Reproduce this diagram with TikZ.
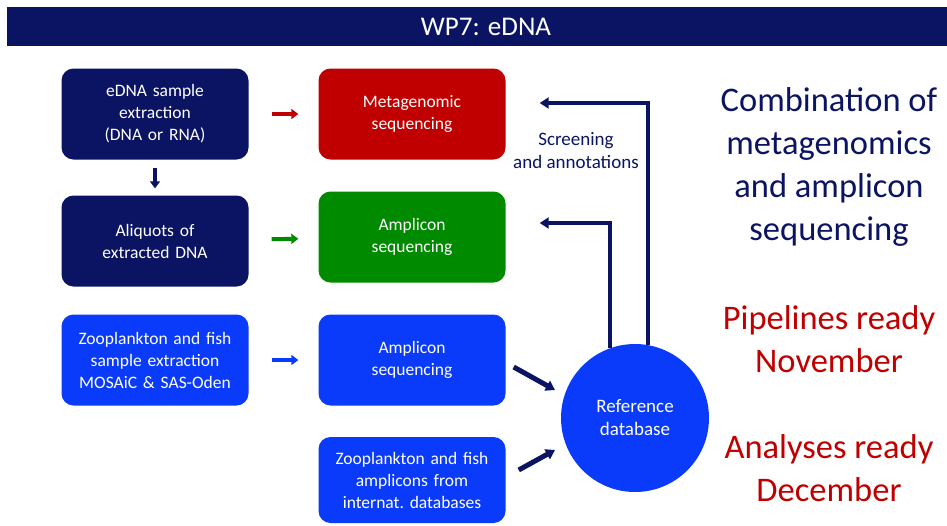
\documentclass[tikz,border=0pt]{standalone}
\usepackage{fontspec}
\setmainfont{Carlito}
\usetikzlibrary{arrows.meta,positioning}

\definecolor{navy}{HTML}{0A1462}
\definecolor{wpred}{HTML}{C00000}
\definecolor{wpgreen}{HTML}{008A00}
\definecolor{wpblue}{HTML}{0A3BFA}

\tikzset{
  box/.style={rounded corners=12pt, minimum width=187pt, minimum height=91pt,
    text width=184pt, align=center, text=white, inner sep=0pt,
    font=\fontsize{17.5}{22}\selectfont},
  small/.style={line width=4pt, -{Triangle[length=7pt,width=10pt]},
    shorten <=23pt, shorten >=20pt},
  back/.style={navy, line width=4pt, -{Triangle[length=9pt,width=11pt]}},
  feed/.style={navy, line width=5pt, -{Triangle[length=9pt,width=11pt]}},
  side/.style={align=center, font=\fontsize{34.5}{43}\selectfont}
}

\begin{document}
\begin{tikzpicture}[x=1pt,y=-1pt]
\useasboundingbox (0,0) rectangle (947,525);

% title bar
\fill[navy] (7,7) rectangle (947,46);
\node[text=white, font=\fontsize{27}{30}\selectfont] (title) at (486,27) {WP7: eDNA};

% left column
\path
(155,114)  node[box, fill=navy]    (ext)  {eDNA sample\\extraction\\(DNA or RNA)}
(155,241)  node[box, fill=navy]    (ali)  {Aliquots of\\extracted DNA}
(155,360)  node[box, fill=wpblue]  (zoo)  {Zooplankton and fish\\sample extraction\\MOSAiC \& SAS-Oden}
;

% middle column
\path
(412,114)  node[box, fill=wpred]   (meta) {Metagenomic\\sequencing}
(412,237)  node[box, fill=wpgreen] (ampg) {Amplicon\\sequencing}
(412,360)  node[box, fill=wpblue]  (ampb) {Amplicon\\sequencing}
(412,480)  node[box, fill=wpblue, minimum height=86pt] (intl) {Zooplankton and fish\\amplicons from\\internat.\ databases}
;

% reference database
\node[circle, fill=wpblue, minimum size=148pt, text=white, align=center,
  font=\fontsize{19}{23}\selectfont] (ref) at (635,418) {Reference\\database};

% small arrows
\draw[small, wpred]   (ext) -- (meta);
\draw[small, wpgreen] (ali) -- (ampg);
\draw[small, wpblue]  (zoo) -- (ampb);
\draw[navy, line width=4pt, -{Triangle[length=7pt,width=10pt]},
  shorten <=8pt, shorten >=7pt] (ext) -- (ali);

% into the database
\draw[feed] ([xshift=8pt,yshift=-7pt]ampb.east) -- ([xshift=-80pt,yshift=28pt]ref.center);
\draw[feed] ([xshift=13pt,yshift=10pt]intl.east) -- ([xshift=-80pt,yshift=-32pt]ref.center);

% screening back to sequencing
\draw[back] (ref.80)  |- ([xshift=34pt,yshift=11pt]meta.east);
\draw[back] (ref.110) |- ([xshift=34pt,yshift=14pt]ampg.east);
\node[navy, align=center, font=\fontsize{19}{23}\selectfont] (scr) at (576,151) {Screening\\and annotations};

% right hand notes
\node[side, text=navy]  (comb) at (829,167) {Combination of\\metagenomics\\and amplicon\\sequencing};
\node[side, text=wpred] (pipe) at (829,339) {Pipelines ready\\November};
\node[side, text=wpred] (anal) at (829,468) {Analyses ready\\December};

\end{tikzpicture}
\end{document}
